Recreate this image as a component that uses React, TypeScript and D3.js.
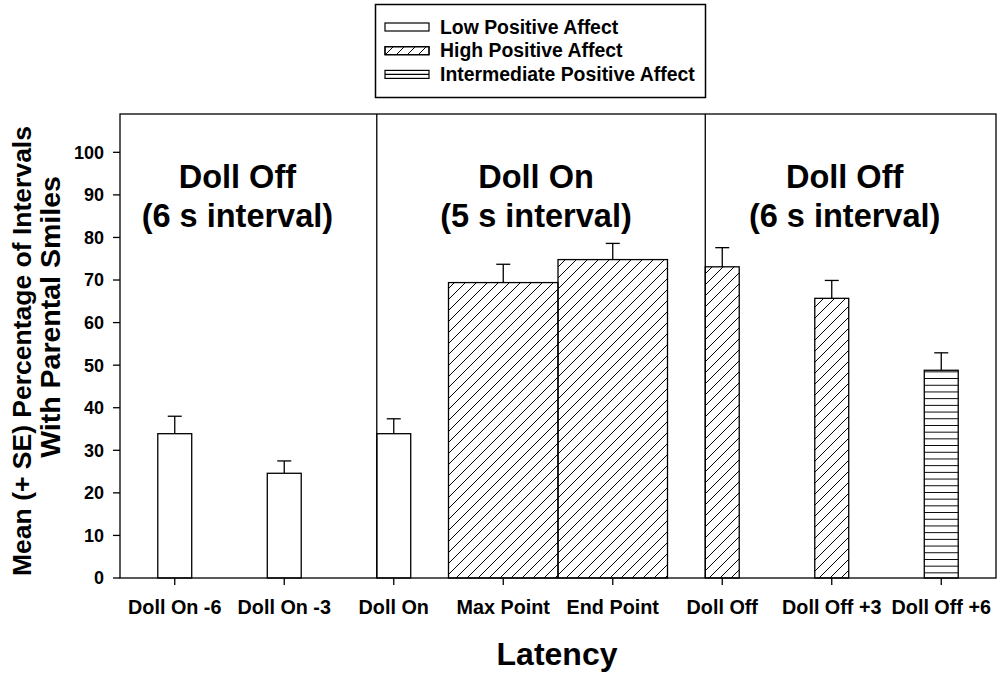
import React from 'react';
import * as d3 from 'd3';

// Latency categories along the x axis
const categories = [
  'Doll On -6',
  'Doll On -3',
  'Doll On',
  'Max Point',
  'End Point',
  'Doll Off',
  'Doll Off +3',
  'Doll Off +6',
];

// mean % of intervals with parental smiles, and upper SE
const means = [33.9, 24.6, 33.9, 69.4, 74.8, 73.1, 65.7, 48.8];
const errors = [4.1, 2.9, 3.5, 4.3, 3.8, 4.5, 4.2, 4.1];

// affect class of each bar
const affect = ['low', 'low', 'low', 'high', 'high', 'high', 'high', 'intermediate'];

const yTicks = [0, 10, 20, 30, 40, 50, 60, 70, 80, 90, 100];

const legendItems = [
  { key: 'low', label: 'Low Positive Affect' },
  { key: 'high', label: 'High Positive Affect' },
  { key: 'intermediate', label: 'Intermediate Positive Affect' },
];

// phase panels: first category of each phase, and its title lines
const panels = [
  { start: 'Doll On -6', lines: ['Doll Off', '(6 s interval)'] },
  { start: 'Doll On', lines: ['Doll On', '(5 s interval)'] },
  { start: 'Doll Off', lines: ['Doll Off', '(6 s interval)'] },
];

const W = 1000;
const H = 674;
const FONT = 'Arial, "Liberation Sans", sans-serif';
const plot = { left: 120, right: 996, top: 114, bottom: 578 };
const wideBars = new Set(['Max Point', 'End Point']);
const narrowFrac = 0.31;

const fillFor = (key: string) =>
  key === 'high' ? 'url(#hatch-diag)' : key === 'intermediate' ? 'url(#hatch-horiz)' : '#fff';

export default function App() {
  const x = d3.scaleBand<string>().domain(categories).range([plot.left, plot.right]).padding(0);
  const y = d3.scaleLinear().domain([0, 109]).range([plot.bottom, plot.top]);
  const step = x.bandwidth();
  const narrowW = step * narrowFrac;

  const barLeft = (c: string) =>
    wideBars.has(c) ? (x(c) as number) : (x(c) as number) + step / 2 - narrowW / 2;
  const barWidth = (c: string) => (wideBars.has(c) ? step : narrowW);

  const panelLeft = panels.map((p, i) => (i === 0 ? plot.left : barLeft(p.start)));
  const panelRight = panelLeft.map((l, i) => (i < panelLeft.length - 1 ? panelLeft[i + 1] : plot.right));
  const titleShift = [-11, -5, -6];

  return (
    <svg
      width={W}
      height={H}
      style={{ position: 'absolute', left: 0, top: 0, background: '#fff' }}
      fontFamily={FONT}
      fontWeight="bold"
    >
      <defs>
        <pattern id="hatch-diag" patternUnits="userSpaceOnUse" width={11} height={11}>
          <path d="M0,11 L11,0 M-3,3 L3,-3 M8,14 L14,8" stroke="#000" strokeWidth={1} />
        </pattern>
        <pattern id="hatch-horiz" patternUnits="userSpaceOnUse" width={10} height={6.7}>
          <rect width={10} height={6.7} fill="#fff" />
          <line x1={0} x2={10} y1={3.35} y2={3.35} stroke="#000" strokeWidth={1} />
        </pattern>
      </defs>

      {/* legend */}
      <g>
        <rect x={375.5} y={4.5} width={330} height={93} fill="#fff" stroke="#000" strokeWidth={1.5} />
        {legendItems.map((d, i) => {
          const cy = 27 + i * 23.7;
          return (
            <g key={d.key}>
              <rect x={385} y={cy - 4} width={44} height={8} fill="#fff" stroke="#000" strokeWidth={1.2} />
              {d.key === 'high' && (
                <rect x={385} y={cy - 4} width={44} height={8} fill="url(#hatch-diag)" stroke="#000" strokeWidth={1.2} />
              )}
              {d.key === 'intermediate' && (
                <line x1={385} x2={429} y1={cy} y2={cy} stroke="#000" strokeWidth={1.2} />
              )}
              <text x={440} y={cy + 6.5} fontSize={19.4} fill="#000">
                {d.label}
              </text>
            </g>
          );
        })}
      </g>

      {/* bars */}
      {categories.map((c, i) => (
        <g key={c}>
          <line
            x1={barLeft(c) + barWidth(c) / 2}
            x2={barLeft(c) + barWidth(c) / 2}
            y1={y(means[i])}
            y2={y(means[i] + errors[i])}
            stroke="#000"
            strokeWidth={1.3}
          />
          <line
            x1={barLeft(c) + barWidth(c) / 2 - 7}
            x2={barLeft(c) + barWidth(c) / 2 + 7}
            y1={y(means[i] + errors[i])}
            y2={y(means[i] + errors[i])}
            stroke="#000"
            strokeWidth={1.3}
          />
          <rect
            x={barLeft(c)}
            y={y(means[i])}
            width={barWidth(c)}
            height={y(0) - y(means[i])}
            fill={fillFor(affect[i])}
            stroke="#000"
            strokeWidth={1.3}
          />
        </g>
      ))}

      {/* frame and phase dividers */}
      <rect
        x={plot.left}
        y={plot.top}
        width={plot.right - plot.left}
        height={plot.bottom - plot.top}
        fill="none"
        stroke="#000"
        strokeWidth={1.3}
      />
      {panelLeft.slice(1).map((px, i) => (
        <line key={i} x1={px} x2={px} y1={plot.top} y2={plot.bottom} stroke="#000" strokeWidth={1.3} />
      ))}

      {/* panel titles */}
      {panels.map((p, i) => {
        const cx = (panelLeft[i] + panelRight[i]) / 2 + titleShift[i];
        return (
          <text key={i} x={cx} textAnchor="middle" fontSize={32.5} fill="#000">
            <tspan x={cx} y={188}>{p.lines[0]}</tspan>
            <tspan x={cx} y={227}>{p.lines[1]}</tspan>
          </text>
        );
      })}

      {/* y axis */}
      {yTicks.map((t) => (
        <g key={t}>
          <line x1={plot.left - 7} x2={plot.left} y1={y(t)} y2={y(t)} stroke="#000" strokeWidth={1.3} />
          <text x={plot.left - 16} y={y(t)} dy="0.36em" textAnchor="end" fontSize={18} fill="#000">
            {t}
          </text>
        </g>
      ))}

      {/* x axis */}
      {categories.map((c) => (
        <g key={c}>
          <line
            x1={(x(c) as number) + step / 2}
            x2={(x(c) as number) + step / 2}
            y1={plot.bottom}
            y2={plot.bottom + 7}
            stroke="#000"
            strokeWidth={1.3}
          />
          <text x={(x(c) as number) + step / 2} y={614} textAnchor="middle" fontSize={19.8} fill="#000">
            {c}
          </text>
        </g>
      ))}

      {/* axis titles */}
      <text x={557} y={665} textAnchor="middle" fontSize={32} fill="#000">
        Latency
      </text>
      <text transform="translate(31,351) rotate(-90)" textAnchor="middle" fontSize={26.5} fill="#000">
        Mean (+ SE) Percentage of Intervals
      </text>
      <text transform="translate(60,317) rotate(-90)" textAnchor="middle" fontSize={28.5} fill="#000">
        With Parental Smiles
      </text>
    </svg>
  );
}
